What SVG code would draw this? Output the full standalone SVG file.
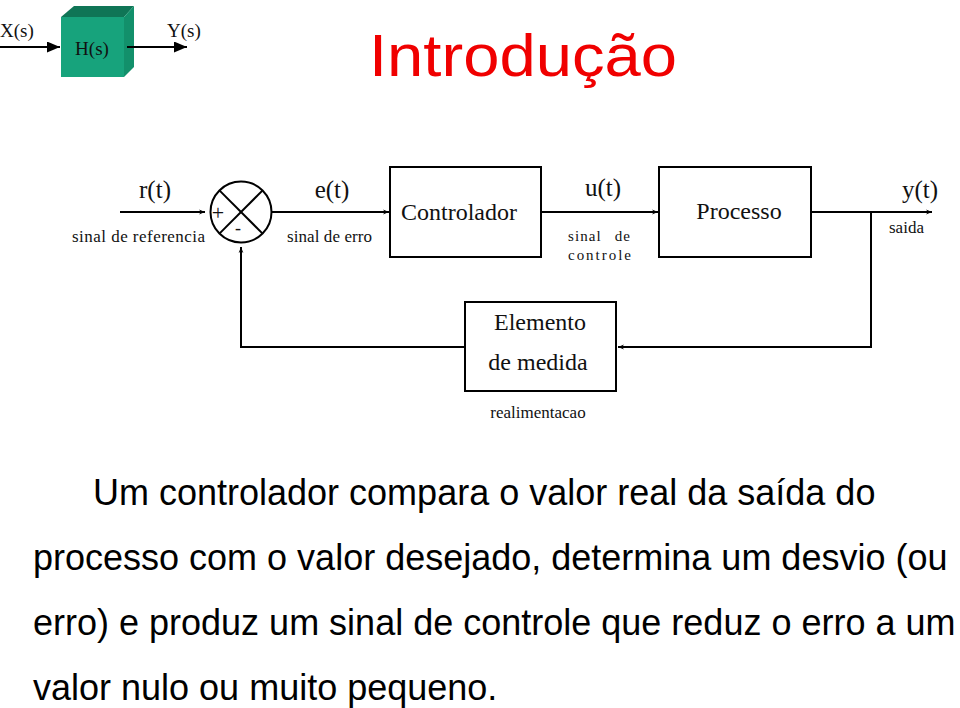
<svg xmlns="http://www.w3.org/2000/svg" width="960" height="708" viewBox="0 0 960 708">
<style>
.ln{fill:none;stroke:#000;stroke-width:2}
.box{fill:#fff;stroke:#000;stroke-width:2}
.ser{font-family:"Liberation Serif","DejaVu Serif",serif;fill:#111}
.big{font-size:24px}
.sm{font-size:17px}
.lbl{font-size:25px}
.body{font-family:"Liberation Sans",Arial,sans-serif;font-size:36px;fill:#000}
</style>
<defs>
<marker id="ah" viewBox="0 0 10 10" refX="10" refY="5" markerWidth="6" markerHeight="6" orient="auto" markerUnits="userSpaceOnUse">
<path d="M0,1 L10,5 L0,9 L3,5 Z" fill="#000"/>
</marker>
<marker id="big" viewBox="0 0 10 10" refX="10" refY="5" markerWidth="13" markerHeight="11" orient="auto" markerUnits="userSpaceOnUse" preserveAspectRatio="none">
<path d="M0,0 L10,5 L0,10 Z" fill="#000"/>
</marker>
</defs>

<g id="cube">
<polygon points="61,17 74,6 134,6 124,17" fill="#0f7556"/>
<polygon points="124,17 134,6 134,67 124,77" fill="#12906b"/>
<rect x="61" y="17" width="63" height="60" fill="#17a37c"/>
<text x="92" y="55" class="ser" font-size="19" text-anchor="middle" fill="#123">H(s)</text>
</g>
<g id="io-labels">
<text x="0" y="37" class="ser" font-size="19">X(s)</text>
<text x="167" y="37" class="ser" font-size="19">Y(s)</text>
</g>
<g id="title">
<text x="523" y="76" font-family="'Liberation Sans',Arial,sans-serif" font-size="59" fill="#f00000" text-anchor="middle" textLength="308" lengthAdjust="spacingAndGlyphs">Introdução</text>
</g>

<g id="connectors">
<line x1="0" y1="47" x2="60" y2="47" class="ln" stroke-width="3" marker-end="url(#big)"/>
<line x1="127" y1="47" x2="187" y2="47" class="ln" stroke-width="3" marker-end="url(#big)"/>
<line x1="120" y1="212" x2="205" y2="212" class="ln" marker-end="url(#ah)"/>
<line x1="272" y1="212" x2="389" y2="212" class="ln" marker-end="url(#ah)"/>
<line x1="541" y1="212" x2="658" y2="212" class="ln" marker-end="url(#ah)"/>
<line x1="811" y1="212" x2="932" y2="212" class="ln" marker-end="url(#ah)"/>
<polyline points="871,212 871,347 618,347" class="ln" marker-end="url(#ah)"/>
<polyline points="465,347 241,347 241,247" class="ln" marker-end="url(#ah)"/>
</g>

<g id="sum">
<circle cx="241" cy="212" r="30.5" class="ln"/>
<line x1="219.4" y1="190.4" x2="262.6" y2="233.6" class="ln"/>
<line x1="262.6" y1="190.4" x2="219.4" y2="233.6" class="ln"/>
<text x="218" y="220" class="ser" font-size="22" text-anchor="middle">+</text>
<text x="238" y="234" class="ser" font-size="18" text-anchor="middle">-</text>
</g>

<g id="controlador">
<rect x="390" y="167" width="151" height="90" class="box"/>
<text x="459" y="220" class="ser big" text-anchor="middle">Controlador</text>
</g>
<g id="processo">
<rect x="659" y="167" width="152" height="90" class="box"/>
<text x="739" y="219" class="ser big" text-anchor="middle">Processo</text>
</g>
<g id="medida">
<rect x="465" y="302" width="151" height="89" class="box"/>
<text x="540" y="330" class="ser big" text-anchor="middle">Elemento</text>
<text x="538" y="370" class="ser big" text-anchor="middle">de medida</text>
</g>

<g id="labels">
<text x="155" y="198" class="ser lbl" text-anchor="middle">r(t)</text>
<text x="332" y="198" class="ser lbl" text-anchor="middle">e(t)</text>
<text x="603" y="196" class="ser lbl" text-anchor="middle">u(t)</text>
<text x="920" y="198" class="ser lbl" text-anchor="middle">y(t)</text>
<text x="72" y="242" class="ser sm" textLength="133">sinal de referencia</text>
<text x="287" y="242" class="ser sm" textLength="85">sinal de erro</text>
<text x="568" y="241" class="ser" font-size="15" textLength="62" word-spacing="8">sinal de</text>
<text x="568" y="260" class="ser" font-size="15" textLength="63">controle</text>
<text x="889" y="233" class="ser sm">saida</text>
<text x="538" y="418" class="ser sm" text-anchor="middle">realimentacao</text>
</g>

<g id="paragraph" class="body">
<text x="93" y="505">Um controlador compara o valor real da saída do</text>
<text x="33" y="570">processo com o valor desejado, determina um desvio (ou</text>
<text x="33" y="635">erro) e produz um sinal de controle que reduz o erro a um</text>
<text x="33" y="700">valor nulo ou muito pequeno.</text>
</g>
</svg>
